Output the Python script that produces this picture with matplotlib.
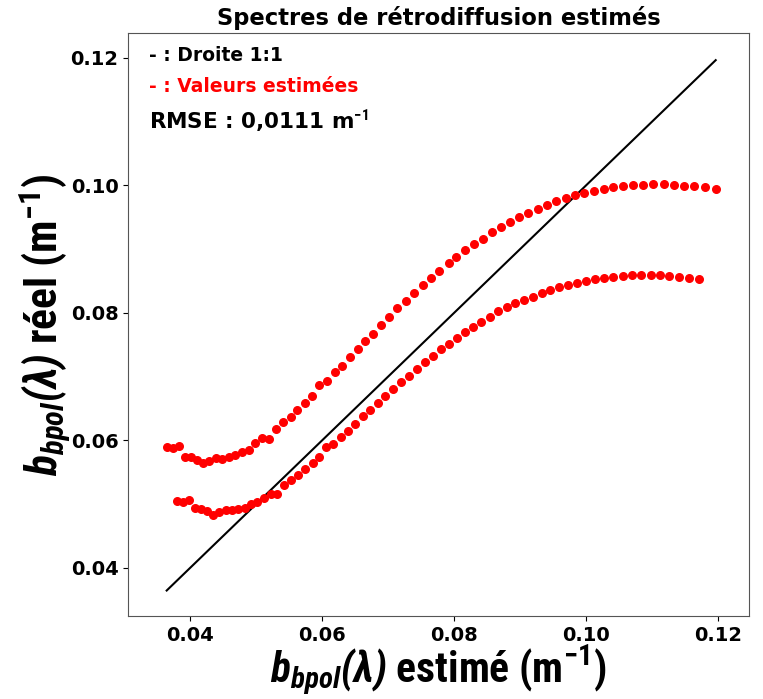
import numpy as np
import matplotlib
matplotlib.use("Agg")
import matplotlib.pyplot as plt

# bbpol estimé (x) / réel (y), deux séries de 68 points
est_1 = [0.03642, 0.03733, 0.03824, 0.03915, 0.04006, 0.04097, 0.04197, 0.04288, 0.04389, 0.04480,
         0.04582, 0.04682, 0.04783, 0.04885, 0.04985, 0.05086, 0.05197, 0.05298, 0.05409, 0.05521,
         0.05621, 0.05733, 0.05844, 0.05955, 0.06076, 0.06188, 0.06298, 0.06420, 0.06541, 0.06652,
         0.06773, 0.06894, 0.07015, 0.07136, 0.07268, 0.07389, 0.07521, 0.07642, 0.07773, 0.07920,
         0.08033, 0.08162, 0.08298, 0.08430, 0.08567, 0.08703, 0.08839, 0.08980, 0.09121, 0.09264,
         0.09405, 0.09545, 0.09688, 0.09824, 0.09965, 0.10117, 0.10264, 0.10409, 0.10561, 0.10712,
         0.10864, 0.11015, 0.11173, 0.11333, 0.11485, 0.11636, 0.11798, 0.11961]
reel_1 = [0.05889, 0.05878, 0.05909, 0.05741, 0.05732, 0.05689, 0.05638, 0.05678, 0.05716, 0.05705,
          0.05732, 0.05768, 0.05815, 0.05846, 0.05951, 0.06035, 0.06014, 0.06171, 0.06281, 0.06359,
          0.06474, 0.06579, 0.06698, 0.06866, 0.06929, 0.07065, 0.07169, 0.07300, 0.07431, 0.07561,
          0.07666, 0.07807, 0.07937, 0.08069, 0.08188, 0.08314, 0.08430, 0.08544, 0.08654, 0.08772,
          0.08878, 0.08976, 0.09073, 0.09161, 0.09261, 0.09344, 0.09423, 0.09496, 0.09569, 0.09627,
          0.09689, 0.09748, 0.09795, 0.09842, 0.09878, 0.09914, 0.09945, 0.09972, 0.09987, 0.09998,
          0.10008, 0.10019, 0.10019, 0.10008, 0.09992, 0.09983, 0.09972, 0.09945]

est_2 = [0.03803, 0.03894, 0.03985, 0.04076, 0.04167, 0.04258, 0.04348, 0.04439, 0.04541, 0.04632,
         0.04723, 0.04824, 0.04924, 0.05015, 0.05117, 0.05218, 0.05318, 0.05420, 0.05530, 0.05632,
         0.05742, 0.05855, 0.05955, 0.06061, 0.06167, 0.06279, 0.06385, 0.06500, 0.06612, 0.06723,
         0.06844, 0.06955, 0.07076, 0.07188, 0.07309, 0.07430, 0.07552, 0.07673, 0.07794, 0.07915,
         0.08036, 0.08158, 0.08288, 0.08409, 0.08541, 0.08665, 0.08794, 0.08924, 0.09056, 0.09188,
         0.09324, 0.09450, 0.09586, 0.09723, 0.09855, 0.09995, 0.10127, 0.10268, 0.10409, 0.10552,
         0.10692, 0.10833, 0.10976, 0.11117, 0.11258, 0.11409, 0.11552, 0.11703]
reel_2 = [0.05046, 0.05035, 0.05067, 0.04932, 0.04921, 0.04889, 0.04831, 0.04874, 0.04905, 0.04905,
          0.04916, 0.04941, 0.04995, 0.05026, 0.05089, 0.05161, 0.05151, 0.05293, 0.05376, 0.05449,
          0.05548, 0.05638, 0.05741, 0.05890, 0.05944, 0.06047, 0.06147, 0.06254, 0.06380, 0.06478,
          0.06579, 0.06698, 0.06803, 0.06913, 0.07012, 0.07122, 0.07227, 0.07325, 0.07426, 0.07509,
          0.07603, 0.07697, 0.07776, 0.07859, 0.07928, 0.08019, 0.08089, 0.08147, 0.08199, 0.08251,
          0.08314, 0.08361, 0.08398, 0.08439, 0.08466, 0.08502, 0.08529, 0.08544, 0.08560, 0.08576,
          0.08587, 0.08587, 0.08587, 0.08587, 0.08576, 0.08560, 0.08549, 0.08529]

rmse_txt = "0,0111"
ticks = [0.04, 0.06, 0.08, 0.10, 0.12]

narrow = 'Roboto Condensed'
plt.rcParams['mathtext.fontset'] = 'custom'
plt.rcParams['mathtext.rm'] = narrow + ':bold'
plt.rcParams['mathtext.bf'] = narrow + ':bold'
plt.rcParams['mathtext.it'] = narrow + ':italic:bold'
plt.rcParams['mathtext.bfit'] = narrow + ':italic:bold'

fig = plt.figure(figsize=(7.63, 6.99), dpi=100)
ax = fig.add_axes([0.1682, 0.1187, 0.8128, 0.8341])

all_x = est_1 + est_2
lo, hi = min(all_x), max(all_x)
ax.plot([lo, hi], [lo, hi], color='k', linewidth=1.5)
ax.scatter(est_1, reel_1, s=30, color='red', zorder=3)
ax.scatter(est_2, reel_2, s=30, color='red', zorder=3)

ax.set_xlim(0.03061, 0.12458)
ax.set_ylim(0.03242, 0.12387)
ax.set_xticks(ticks)
ax.set_yticks(ticks)
ax.set_xticklabels([f"{t:.2f}" for t in ticks], fontsize=14, fontweight='bold')
ax.set_yticklabels([f"{t:.2f}" for t in ticks], fontsize=14, fontweight='bold')
for s in ax.spines.values():
    s.set_color('#555555')

ax.set_title("Spectres de rétrodiffusion estimés", fontsize=16.3, fontweight='bold', pad=6)

ax.text(0.033, 0.961, "- : Droite 1:1", transform=ax.transAxes, fontsize=13.5,
        fontweight='bold', va='center')
ax.text(0.033, 0.908, "- : Valeurs estimées", transform=ax.transAxes, fontsize=13.5,
        fontweight='bold', color='red', va='center')
ax.text(0.033, 0.849, "RMSE : " + rmse_txt + r" m$^{\mathbf{-1}}$", transform=ax.transAxes,
        fontsize=15.5, fontweight='bold', va='center')

lab = r"$\mathbfit{b}_{\mathbfit{bpol}}\mathbfit{(\lambda)}$"
ax.set_xlabel(lab + r" estimé (m$^{\mathbf{-1}}$)", fontsize=30, fontweight='bold',
              family=narrow, labelpad=-1)
ax.set_ylabel(lab + r" réel (m$^{\mathbf{-1}}$)", fontsize=31.5, fontweight='bold',
              family=narrow, labelpad=-2)

fig.savefig("out.png", dpi=100)
